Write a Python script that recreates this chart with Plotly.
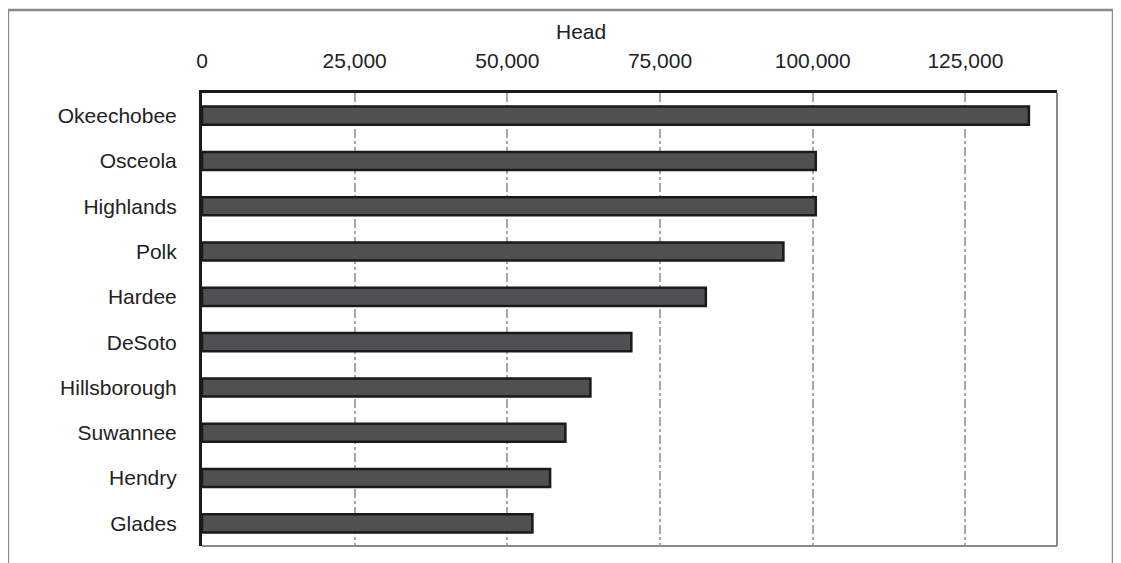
import plotly.graph_objects as go

counties = ["Okeechobee", "Osceola", "Highlands", "Polk", "Hardee", "DeSoto",
            "Hillsborough", "Suwannee", "Hendry", "Glades"]
head = [135400, 100500, 100500, 95200, 82500, 70300, 63600, 59500, 57000, 54100]
tick_vals = [0, 25000, 50000, 75000, 100000, 125000]
tick_text = ["0", "25,000", "50,000", "75,000", "100,000", "125,000"]
axis_title = "Head"

fig = go.Figure(go.Bar(
    y=counties, x=head, orientation="h", width=0.4,
    marker=dict(color="#505052", line=dict(color="#1a1a1a", width=2.5)),
))

fig.update_layout(
    width=1121, height=563,
    margin=dict(l=194, r=72, t=85, b=25),
    paper_bgcolor="white", plot_bgcolor="white",
    font=dict(family="Liberation Sans, Arial, sans-serif", size=21, color="#222"),
    showlegend=False,
    xaxis=dict(
        side="top", range=[0, 140000], tickvals=tick_vals, ticktext=tick_text,
        showgrid=True, gridcolor="#a8a8a8", gridwidth=1.5, griddash="dashdot",
        showline=True, linecolor="#1a1a1a", linewidth=3,
        ticks="", ticklabelstandoff=14, zeroline=False,
    ),
    yaxis=dict(
        autorange="reversed", showgrid=False, showline=True,
        linecolor="#1a1a1a", linewidth=3, ticks="", ticklabelstandoff=18,
        zeroline=False,
    ),
    annotations=[
        dict(text=axis_title, xref="paper", yref="paper", x=0.443, y=1.135,
             showarrow=False, xanchor="center", yanchor="middle",
             font=dict(size=21, color="#222")),
    ],
    shapes=[
        dict(type="rect", xref="paper", yref="paper", x0=-0.227, x1=1.0655,
             y0=-0.2, y1=1.183, line=dict(color="#8a8a8a", width=2.5), layer="below"),
        dict(type="line", xref="paper", yref="paper", x0=1, x1=1, y0=0, y1=1,
             line=dict(color="#8a8a8a", width=2)),
        dict(type="line", xref="paper", yref="paper", x0=0, x1=1, y0=0, y1=0,
             line=dict(color="#8a8a8a", width=2)),
    ],
)

fig.write_html("out.html")
